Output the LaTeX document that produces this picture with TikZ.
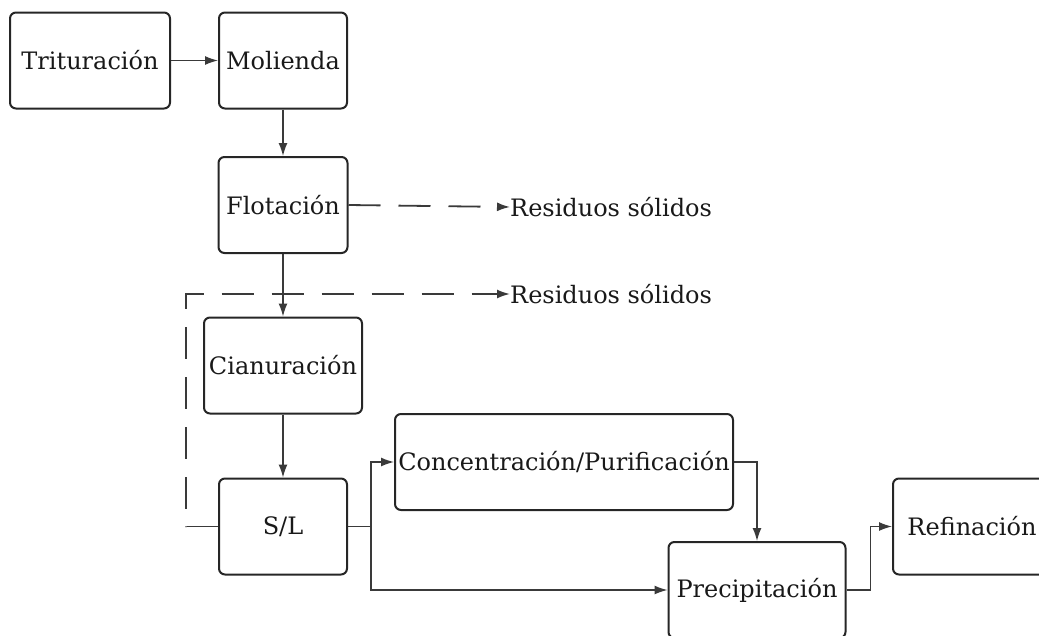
\documentclass[tikz,border=0pt]{standalone}
\usepackage{fontspec}
\setmainfont{DejaVu Serif}
\usetikzlibrary{arrows.meta}
\definecolor{trazo}{HTML}{3a3a3a}
\begin{document}
\begin{tikzpicture}[x=1pt, y=-1pt,
  etapa/.style={draw=black!85, line width=2pt, rounded corners=6pt, font=\fontsize{24}{28}\selectfont, text=black!90, inner sep=0pt, minimum height=96pt},
  flujo/.style={draw=trazo, line width=1.4pt, -{Latex[length=13pt,width=9pt]}},
  residuo/.style={flujo, line width=1.8pt, dash pattern=on 32pt off 18pt},
  nota/.style={anchor=west, inner sep=0pt, font=\fontsize{24}{28}\selectfont, text=black!90}]
  \clip (0,0) rectangle (1039,635);
  \node[etapa, minimum width=160pt] (trit) at (90,60.5) {Trituración};
  \node[etapa, minimum width=128pt] (mol) at (283,60.5) {Molienda};
  \node[etapa, minimum width=129pt] (flot) at (283,205) {Flotación};
  \node[etapa, minimum width=158pt] (cian) at (283,365.5) {Cianuración};
  \node[etapa, minimum width=128pt] (sl) at (283,526.5) {S/L};
  \node[etapa, minimum width=338pt] (conc) at (564,462) {Concentración/Purificación};
  \node[etapa, minimum width=177pt] (prec) at (757,590) {Precipitación};
  \node[etapa, minimum width=158pt] (ref) at (972,526.5) {Refinación};
  \node[nota] (res1) at (510,207) {Residuos sólidos};
  \node[nota] (res2) at (510,294) {Residuos sólidos};
  \coordinate (bif) at (371,526.5);
  \coordinate (retorno) at (186,526.5);
  % flujo principal
  \draw[flujo] (trit) -- (mol);
  \draw[flujo] (mol) -- (flot);
  \draw[flujo] (flot) -- (cian);
  \draw[flujo] (cian) -- (sl);
  \draw[flujo] (sl.east) -- (bif) |- (conc.west);
  \draw[flujo] (bif) |- (prec.west);
  \draw[flujo] (conc.east) -| (prec.north);
  \draw[flujo] (prec.east) -- ++(24,0) |- (ref.west);
  % residuos
  \draw[residuo] (flot.east) -- (res1.west);
  \draw[residuo] (sl.west) -- (retorno) |- (res2.west);
\end{tikzpicture}
\end{document}
